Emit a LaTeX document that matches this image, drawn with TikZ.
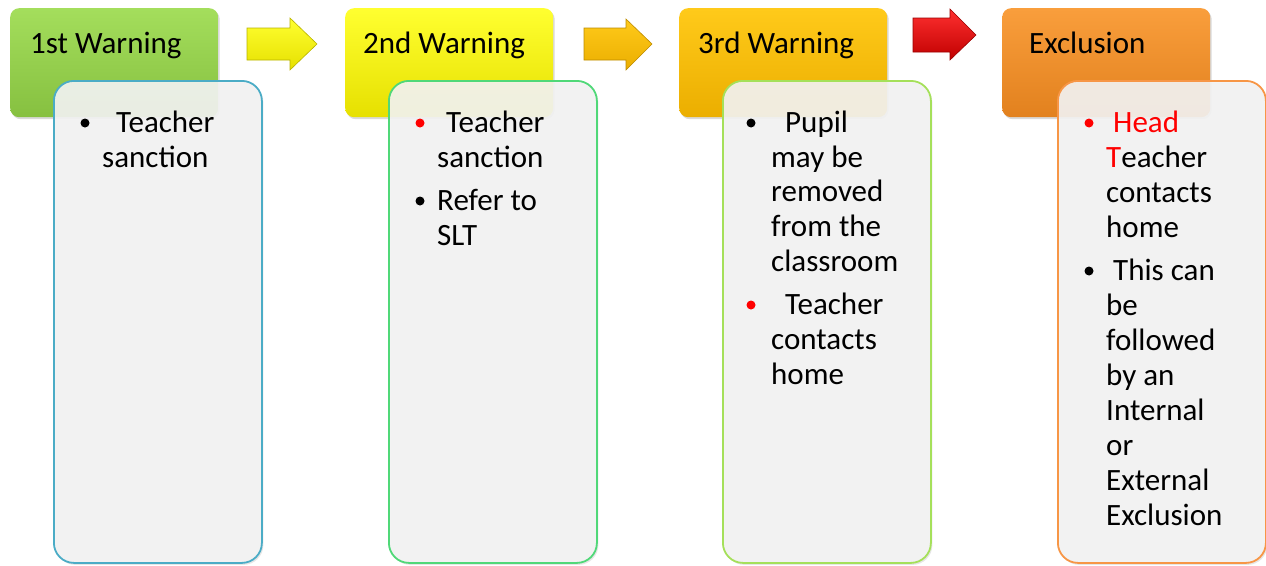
\documentclass[tikz,border=0pt]{standalone}
\usepackage{fontspec}
\setmainfont{Carlito}
\usetikzlibrary{shadows}
\definecolor{boxgray}{HTML}{F4F4F4}
\definecolor{bdA}{HTML}{4BACC6}
\definecolor{bdB}{HTML}{50D878}
\definecolor{bdC}{HTML}{A5E05A}
\definecolor{bdD}{HTML}{F79646}
\definecolor{gTop}{HTML}{A4DE5C}
\definecolor{gMid}{HTML}{9CD852}
\definecolor{gBot}{HTML}{86C040}
\definecolor{yTop}{HTML}{FFFF30}
\definecolor{yMid}{HTML}{FFFF00}
\definecolor{yBot}{HTML}{E6E000}
\definecolor{oTop}{HTML}{FFCA1A}
\definecolor{oMid}{HTML}{FFC400}
\definecolor{oBot}{HTML}{EBAE00}
\definecolor{xTop}{HTML}{F99E3C}
\definecolor{xMid}{HTML}{F7942C}
\definecolor{xBot}{HTML}{E2811E}
\definecolor{rTop}{HTML}{FF3030}
\definecolor{rMid}{HTML}{F01010}
\definecolor{rBot}{HTML}{C00000}
\definecolor{bulletred}{HTML}{FF0000}
\begin{document}
\begin{tikzpicture}[x=1pt,y=-1pt,
  head/.style={rectangle, rounded corners=9pt, anchor=north west,
    minimum width=208pt, minimum height=109pt, inner sep=0pt,
    drop shadow={opacity=0.3, shadow xshift=1.5pt, shadow yshift=-2pt}},
  detail/.style={rectangle, rounded corners=20pt, line width=1.8pt,
    fill=boxgray, fill opacity=0.9, anchor=north west,
    minimum width=208pt, minimum height=482pt, inner sep=0pt,
    drop shadow={opacity=0.2, shadow xshift=1.5pt, shadow yshift=-2pt}},
  ln/.style={anchor=base west, inner sep=0pt, font=\fontsize{31}{35}\selectfont},
  dot/.style={circle, inner sep=0pt, minimum size=9pt, fill=black},
  rdot/.style={dot, fill=bulletred},
  arr/.style={line width=0.6pt}
]
\useasboundingbox (0,0) rectangle (1266,565);

% headers
\node[head, top color=gTop, middle color=gMid, bottom color=gBot] (h1) at (10,8) {};
\node[head, top color=yTop, middle color=yMid, bottom color=yBot] (h2) at (345,8) {};
\node[head, top color=oTop, middle color=oMid, bottom color=oBot] (h3) at (679,8) {};
\node[head, top color=xTop, middle color=xMid, bottom color=xBot] (h4) at (1002,8) {};

\node[ln] (t1) at (30,53) {1st Warning};
\node[ln] (t2) at (363,53) {2nd Warning};
\node[ln] (t3) at (698,53) {3rd Warning};
\node[ln] (t4) at (1029,53) {Exclusion};

% arrows
\draw[arr, draw=yBot!80!black, top color=yTop, middle color=yMid, bottom color=yBot]
  (247,28) -- (290,28) -- (290,18) -- (317,44) -- (290,70) -- (290,60) -- (247,60) -- cycle;
\draw[arr, draw=oBot!80!black, top color=oTop, middle color=oMid, bottom color=oBot]
  (584,28) -- (626,28) -- (626,19) -- (652,44) -- (626,70) -- (626,60) -- (584,60) -- cycle;
\draw[arr, draw=rBot!80!black, top color=rTop, middle color=rMid, bottom color=rBot]
  (913,18) -- (950,18) -- (950,9) -- (976,35) -- (950,60) -- (950,52) -- (913,52) -- cycle;

% detail boxes
\node[detail, draw=bdA] (d1) at (53,80) {};
\node[detail, draw=bdB] (d2) at (388,80) {};
\node[detail, draw=bdC] (d3) at (722,80) {};
\node[detail, draw=bdD] (d4) at (1057,80) {};

% box 1
\node[dot] (b1a) at (85,123) {};
\node[ln] (l1a) at (116,132) {Teacher};
\node[ln] (l1b) at (102,167) {sanction};

% box 2
\node[rdot] (b2a) at (420,123) {};
\node[ln] (l2a) at (446,132) {Teacher};
\node[ln] (l2b) at (437,167) {sanction};
\node[dot] (b2b) at (420,201) {};
\node[ln] (l2c) at (437,210) {Refer to};
\node[ln] (l2d) at (437,245) {SLT};

% box 3
\node[dot] (b3a) at (751,123) {};
\node[ln] (l3a) at (785,132) {Pupil};
\node[ln] (l3b) at (771,167) {may be};
\node[ln] (l3c) at (771,201) {removed};
\node[ln] (l3d) at (771,236) {from the};
\node[ln] (l3e) at (771,271) {classroom};
\node[rdot] (b3b) at (751,305) {};
\node[ln] (l3f) at (785,314) {Teacher};
\node[ln] (l3g) at (771,349) {contacts};
\node[ln] (l3h) at (771,384) {home};

% box 4
\node[rdot] (b4a) at (1089,123) {};
\node[ln] (l4a) at (1113,132) {\textcolor{bulletred}{Head}};
\node[ln] (l4b) at (1106,167) {\textcolor{bulletred}{T}eacher};
\node[ln] (l4c) at (1106,202) {contacts};
\node[ln] (l4d) at (1106,237) {home};
\node[dot] (b4b) at (1089,271) {};
\node[ln] (l4e) at (1113,280) {This can};
\node[ln] (l4f) at (1106,315) {be};
\node[ln] (l4g) at (1106,350) {followed};
\node[ln] (l4h) at (1106,385) {by an};
\node[ln] (l4i) at (1106,420) {Internal};
\node[ln] (l4j) at (1106,455) {or};
\node[ln] (l4k) at (1106,490) {External};
\node[ln] (l4l) at (1106,525) {Exclusion};
\end{tikzpicture}
\end{document}
